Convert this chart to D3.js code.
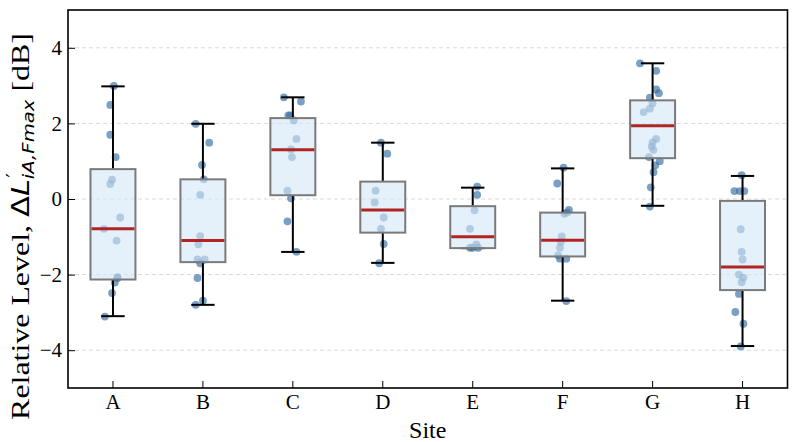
<!DOCTYPE html>
<html><head><meta charset="utf-8">
<script src="https://cdn.jsdelivr.net/npm/d3@7"></script>
<style>body{margin:0;background:#fff}</style>
</head><body>
<svg id="chart" width="800" height="442"></svg>
<script>
// ---- data ----
const sites = ["A","B","C","D","E","F","G","H"];
const whiskerLow  = [-3.10, -2.80, -1.40, -1.69, -1.30, -2.69, -0.18, -3.89];
const q1          = [-2.13, -1.67,  0.10, -0.89, -1.30, -1.52,  1.08, -2.41];
const medians     = [-0.79, -1.10,  1.30, -0.29, -1.00, -1.09,  1.94, -1.80];
const q3          = [ 0.79,  0.52,  2.14,  0.46, -0.19, -0.36,  2.61, -0.05];
const whiskerHigh = [ 2.98,  1.99,  2.69,  1.49,  0.30,  0.81,  3.59,  0.61];
const yTicks = [-4, -2, 0, 2, 4];

const pointValues = [
  [2.99,2.49,1.70,1.11,0.51,0.40,-0.49,-0.79,-1.10,-2.07,-2.09,-2.21,-2.49,-3.11],
  [1.99,1.49,0.90,0.52,0.11,-0.98,-1.20,-1.60,-1.60,-1.70,-2.09,-2.69,-2.80],
  [2.69,2.58,2.21,2.21,2.08,1.59,1.31,1.11,0.22,0.02,-0.59,-1.40],
  [1.49,1.20,0.22,-0.09,-0.49,-0.79,-1.19,-1.70],
  [0.33,0.11,-0.30,-0.79,-1.20,-1.29,-1.29,-1.29],
  [0.83,0.41,-0.29,-0.36,-0.39,-0.99,-1.14,-1.29,-1.49,-1.58,-1.58,-2.70],
  [3.59,3.39,2.90,2.80,2.68,2.53,2.39,2.30,1.59,1.50,1.39,1.30,1.11,1.00,0.89,0.71,0.31,-0.20],
  [0.63,0.21,0.21,0.21,-0.80,-1.40,-1.60,-2.00,-2.08,-2.20,-2.51,-2.99,-3.30,-3.90]
];
// horizontal strip jitter (fraction of category step)
const pointJitter = [
  [0.01,-0.03,-0.03,0.03,-0.01,-0.03,0.08,-0.10,0.04,0.05,0.05,0.02,-0.01,-0.09],
  [-0.08,0.07,-0.01,0.01,-0.03,-0.03,-0.05,-0.06,0.02,-0.03,-0.06,0.00,-0.08],
  [-0.10,0.09,-0.05,-0.03,0.01,0.04,-0.02,-0.01,-0.06,-0.02,-0.06,0.04],
  [-0.02,0.05,-0.08,-0.09,0.01,-0.02,0.01,-0.04],
  [0.05,0.05,0.02,-0.03,0.04,-0.03,0.00,0.06],
  [0.01,-0.06,0.07,0.05,0.02,-0.01,-0.02,-0.03,-0.05,-0.03,0.04,0.04],
  [-0.14,0.04,0.04,0.07,-0.03,0.00,-0.03,-0.10,0.04,0.00,-0.01,0.01,-0.04,0.08,0.03,0.01,-0.02,-0.03],
  [-0.01,-0.09,-0.03,0.02,-0.02,-0.01,0.00,-0.04,0.01,-0.01,-0.04,-0.08,0.01,-0.02]
];

// ---- layout ----
const W = 800, H = 442;
const margin = {top: 10, right: 12.5, bottom: 54, left: 68};
const svg = d3.select("#chart");
const serif = "'Liberation Serif','Times New Roman',serif";
const sans = "'DejaVu Sans',sans-serif";

const x = d3.scaleBand().domain(sites)
  .range([margin.left, W - margin.right])
  .paddingInner(0.5).paddingOuter(0.25);
const step = x.step();
const y = d3.scaleLinear().domain([-5, 5]).range([H - margin.bottom, margin.top]);
const cx = s => x(s) + x.bandwidth() / 2;

const boxes = sites.map((s, i) => ({
  site: s, lo: whiskerLow[i], q1: q1[i], med: medians[i], q3: q3[i], hi: whiskerHigh[i]
}));
const points = [];
sites.forEach((s, i) => pointValues[i].forEach((v, j) =>
  points.push({site: s, value: v, jit: pointJitter[i][j]})));

// grid
svg.append("g").selectAll("line").data(yTicks).join("line")
  .attr("x1", margin.left).attr("x2", W - margin.right)
  .attr("y1", d => y(d)).attr("y2", d => y(d))
  .attr("stroke", "#d9d9d9").attr("stroke-width", 1)
  .attr("stroke-dasharray", "4,3");

// points (under the translucent boxes)
svg.append("g").selectAll("circle").data(points).join("circle")
  .attr("cx", d => cx(d.site) + d.jit * step)
  .attr("cy", d => y(d.value))
  .attr("r", 3.9)
  .attr("fill", "#3b73a6").attr("fill-opacity", 0.68);

const bw = x.bandwidth();
const capW = bw * 0.52;
const g = svg.append("g");
// whiskers
g.selectAll(".wl").data(boxes).join("line")
  .attr("x1", d => cx(d.site)).attr("x2", d => cx(d.site))
  .attr("y1", d => y(d.lo)).attr("y2", d => y(d.q1))
  .attr("stroke", "#000").attr("stroke-width", 2);
g.selectAll(".wh").data(boxes).join("line")
  .attr("x1", d => cx(d.site)).attr("x2", d => cx(d.site))
  .attr("y1", d => y(d.hi)).attr("y2", d => y(d.q3))
  .attr("stroke", "#000").attr("stroke-width", 2);
// caps
g.selectAll(".cl").data(boxes).join("line")
  .attr("x1", d => cx(d.site) - capW / 2).attr("x2", d => cx(d.site) + capW / 2)
  .attr("y1", d => y(d.lo)).attr("y2", d => y(d.lo))
  .attr("stroke", "#000").attr("stroke-width", 2);
g.selectAll(".ch").data(boxes).join("line")
  .attr("x1", d => cx(d.site) - capW / 2).attr("x2", d => cx(d.site) + capW / 2)
  .attr("y1", d => y(d.hi)).attr("y2", d => y(d.hi))
  .attr("stroke", "#000").attr("stroke-width", 2);
// boxes
g.selectAll("rect.box").data(boxes).join("rect").attr("class", "box")
  .attr("x", d => x(d.site)).attr("width", bw)
  .attr("y", d => y(d.q3)).attr("height", d => y(d.q1) - y(d.q3))
  .attr("fill", "#d3e8f7").attr("fill-opacity", 0.6)
  .attr("stroke", "#7a7a7a").attr("stroke-width", 2);
// medians
g.selectAll(".med").data(boxes).join("line")
  .attr("x1", d => x(d.site) + 1).attr("x2", d => x(d.site) + bw - 1)
  .attr("y1", d => y(d.med)).attr("y2", d => y(d.med))
  .attr("stroke", "#b02424").attr("stroke-width", 3);

// axes with inward ticks
const yAxis = svg.append("g").attr("transform", `translate(${margin.left},0)`)
  .call(d3.axisLeft(y).tickValues(yTicks).tickSize(-7).tickPadding(6));
const xAxis = svg.append("g").attr("transform", `translate(0,${H - margin.bottom})`)
  .call(d3.axisBottom(x).tickSize(-7).tickPadding(6));
[yAxis, xAxis].forEach(a => {
  a.select(".domain").remove();
  a.selectAll(".tick line").attr("stroke", "#000").attr("stroke-width", 1);
  a.selectAll(".tick text").attr("fill", "#000")
    .style("font-family", serif).style("font-size", "21px");
});

// frame
svg.append("rect")
  .attr("x", margin.left).attr("y", margin.top)
  .attr("width", W - margin.left - margin.right)
  .attr("height", H - margin.top - margin.bottom)
  .attr("fill", "none").attr("stroke", "#000").attr("stroke-width", 1.6);

// x label
svg.append("text")
  .attr("x", (margin.left + W - margin.right) / 2).attr("y", 438)
  .attr("text-anchor", "middle")
  .style("font-family", serif).style("font-size", "24px")
  .text("Site");

// y label with math-style part
const yl = svg.append("text").attr("text-anchor", "middle")
  .style("font-family", serif).style("font-size", "26px");
yl.append("tspan").text("Relative Level, ");
yl.append("tspan").style("font-family", sans).style("font-size", "25px").text("\u0394");
yl.append("tspan").style("font-family", sans).style("font-size", "25px").style("font-style", "italic").text("L");
yl.append("tspan").style("font-family", sans).style("font-size", "17px")
  .attr("dy", -10).attr("dx", 1).text("\u2032");
yl.append("tspan").style("font-family", sans).style("font-style", "italic")
  .style("font-size", "16px").attr("dy", 15).attr("dx", -5).text("iA,Fmax");
yl.append("tspan").attr("dy", -5).text(" [dB]");
const bb = yl.node().getBBox();
const yTop = 33, yBot = 420;
const sc = (yBot - yTop) / bb.width;
yl.attr("transform", `translate(29,${(yTop + yBot) / 2}) rotate(-90) scale(${sc},1)`);
</script>
</body></html>
